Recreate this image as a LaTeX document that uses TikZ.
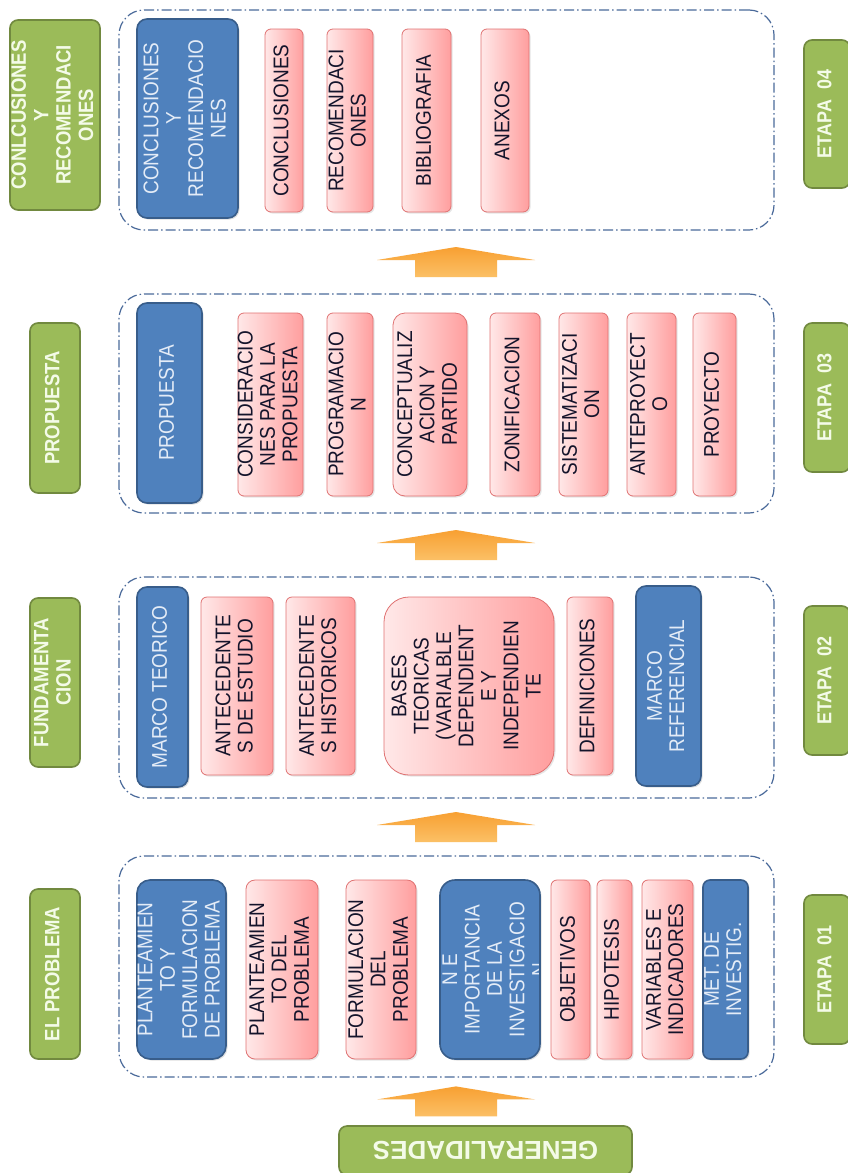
\documentclass[tikz,border=0pt]{standalone}
\usepackage{fontspec}
\setmainfont{Liberation Sans}
\usepackage{graphicx}
\usetikzlibrary{shadows}

\definecolor{etblue}{HTML}{4F81BD}
\definecolor{etblueD}{HTML}{385D8A}
\definecolor{etbluetxt}{HTML}{E4ECF7}
\definecolor{etpinkL}{HTML}{FFE8E8}
\definecolor{etpinkR}{HTML}{FF9E9E}
\definecolor{etpinkD}{HTML}{E07272}
\definecolor{ettxt}{HTML}{14142B}
\definecolor{etgreen}{HTML}{9BBB59}
\definecolor{etgreenD}{HTML}{71893F}
\definecolor{etgreentxt}{HTML}{F4FBE8}
\definecolor{etframe}{HTML}{4A6A9A}
\definecolor{etorA}{HTML}{F8A032}
\definecolor{etorB}{HTML}{F3861A}
\definecolor{etorC}{HTML}{FBC066}

\newcommand{\rottext}[1]{\rotatebox{90}{\scalebox{1}[1.12]{\begin{tabular}{@{}c@{}}#1\end{tabular}}}}

\tikzset{
  sz/.style 2 args={minimum width=#1pt, minimum height=#2pt},
  boxtxt/.style={font=\fontsize{19}{20}\selectfont},
  blueb/.style={draw=etblueD, line width=1.6pt, fill=etblue, rounded corners=10pt,
    text=etbluetxt, inner sep=-4pt, boxtxt,
    drop shadow={opacity=0.25, shadow xshift=1.5pt, shadow yshift=-1.5pt}},
  pinkb/.style={draw=etpinkD, line width=0.8pt, left color=etpinkL, right color=etpinkR,
    rounded corners=6pt, text=ettxt, inner sep=-4pt, boxtxt,
    drop shadow={opacity=0.2, shadow xshift=1.5pt, shadow yshift=-1.5pt}},
  greenb/.style={draw=etgreenD, line width=1.6pt, fill=etgreen, rounded corners=8pt,
    text=etgreentxt, inner sep=-4pt, font=\bfseries\fontsize{18.5}{20}\selectfont},
  etapa/.style={greenb, font=\bfseries\fontsize{18}{20}\selectfont},
  stage/.style={draw=etframe, line width=1.2pt, dash pattern=on 10pt off 3pt on 1.5pt off 3pt,
    rounded corners=25pt, inner sep=0pt},
  uparrow/.style={top color=etorA, middle color=etorB, bottom color=etorC},
}

\begin{document}
\begin{tikzpicture}[x=1pt, y=-1pt]
\useasboundingbox[fill=white] (0,0) rectangle (847,1173);

% etapa 04
\node[stage, sz={655}{220}] (s4) at (446.5,120) {};
\node[greenb, sz={90}{190}] (g4) at (55,115) {\rottext{CONLCUSIONES\\Y\\RECOMENDACI\\ONES}};
\node[blueb, sz={101}{199}] (b41) at (187.5,118.5) {\rottext{CONCLUSIONES\\Y\\RECOMENDACIO\\NES}};
\node[pinkb, sz={38}{183}] (p41) at (284,120.5) {\rottext{CONCLUSIONES}};
\node[pinkb, sz={46}{183}] (p42) at (350,120.5) {\rottext{RECOMENDACI\\ONES}};
\node[pinkb, sz={49}{183}] (p43) at (426.5,120.5) {\rottext{BIBLIOGRAFIA}};
\node[pinkb, sz={48}{183}] (p44) at (505,120.5) {\rottext{ANEXOS}};
\node[etapa, sz={46}{148}] (e4) at (827,114) {\rottext{ETAPA\ \ 04}};

% etapa 03
\node[stage, sz={655}{219}] (s3) at (446.5,403.5) {};
\node[greenb, sz={50}{170}] (g3) at (55,408) {\rottext{PROPUESTA}};
\node[blueb, sz={65}{200}] (b31) at (169.5,403) {\rottext{PROPUESTA}};
\node[pinkb, sz={65}{183}] (p31) at (270.5,404.5) {\rottext{CONSIDERACIO\\NES PARA LA\\PROPUESTA}};
\node[pinkb, sz={46}{183}] (p32) at (350,404.5) {\rottext{PROGRAMACIO\\N}};
\node[pinkb, sz={74}{183}, rounded corners=12pt] (p33) at (430,404.5) {\rottext{CONCEPTUALIZ\\ACION Y\\PARTIDO}};
\node[pinkb, sz={50}{183}] (p34) at (515,404.5) {\rottext{ZONIFICACION}};
\node[pinkb, sz={49}{183}] (p35) at (583.5,404.5) {\rottext{SISTEMATIZACI\\ON}};
\node[pinkb, sz={49}{183}] (p36) at (651.5,404.5) {\rottext{ANTEPROYECT\\O}};
\node[pinkb, sz={43}{183}] (p37) at (714.5,404.5) {\rottext{PROYECTO}};
\node[etapa, sz={46}{149}] (e3) at (827,397.5) {\rottext{ETAPA\ \ 03}};

% etapa 02
\node[stage, sz={655}{221}] (s2) at (446.5,687.5) {};
\node[greenb, sz={50}{169}] (g2) at (55,682.5) {\rottext{FUNDAMENTA\\CION}};
\node[blueb, sz={51}{200}] (b21) at (162.5,687) {\rottext{MARCO TEORICO}};
\node[pinkb, sz={72}{178}] (p21) at (237,686) {\rottext{ANTECEDENTE\\S DE ESTUDIO}};
\node[pinkb, sz={69}{178}] (p22) at (320.5,686) {\rottext{ANTECEDENTE\\S HISTORICOS}};
\node[pinkb, sz={170}{178}, rounded corners=25pt] (p23) at (469,686)
  {\rottext{BASES\\TEORICAS\\(VARIALBLE\\DEPENDIENT\\E Y\\INDEPENDIEN\\TE}};
\node[pinkb, sz={46}{178}] (p24) at (590,686) {\rottext{DEFINICIONES}};
\node[blueb, sz={65}{200}] (b22) at (668.5,686) {\rottext{MARCO\\REFERENCIAL}};
\node[etapa, sz={46}{149}] (e2) at (827,680.5) {\rottext{ETAPA\ \ 02}};

% etapa 01
\node[stage, sz={655}{221}] (s1) at (446.5,966.5) {};
\node[greenb, sz={50}{170}] (g1) at (55,974) {\rottext{EL PROBLEMA}};
\node[blueb, sz={89}{179}, rounded corners=13pt] (b11) at (181.5,969.5) {\rottext{PLANTEAMIEN\\TO Y\\FORMULACION\\DE PROBLEMA}};
\node[pinkb, sz={72}{179}, rounded corners=9pt] (p11) at (282,969.5) {\rottext{PLANTEAMIEN\\TO DEL\\PROBLEMA}};
\node[pinkb, sz={70}{179}, rounded corners=9pt] (p12) at (381,969.5) {\rottext{FORMULACION\\DEL\\PROBLEMA}};
\node[blueb, sz={100}{179}, rounded corners=15pt,
  path picture={\node[text=etbluetxt, boxtxt] (b12t) at ([xshift=7.5pt]path picture bounding box.center)
    {\rottext{N E\\IMPORTANCIA\\DE LA\\INVESTIGACIO\\N}};}] (b12) at (490,969.5) {};
\node[pinkb, sz={39}{179}] (p13) at (570.5,969.5) {\rottext{OBJETIVOS}};
\node[pinkb, sz={35}{179}] (p14) at (614.5,969.5) {\rottext{HIPOTESIS}};
\node[pinkb, sz={51}{179}] (p15) at (667.5,969.5) {\rottext{VARIABLES E\\INDICADORES}};
\node[blueb, sz={45}{179}, rounded corners=7pt] (b13) at (725.5,969.5) {\rottext{MET. DE\\INVESTIG.}};
\node[etapa, sz={46}{149}] (e1) at (827,969.5) {\rottext{ETAPA\ \ 01}};

\node[greenb, sz={293}{49}, font=\bfseries\fontsize{26}{28}\selectfont] (gen) at (485.5,1150.5) {\rotatebox{180}{GENERALIDADES}};

% flechas
\foreach \a/\b in {s4/s3, s3/s2, s2/s1, s1/gen} {
  \path (\a.south) -- (\a.south |- \b.north) coordinate[midway] (m\a);
  \shade[uparrow, shift={(m\a)}, xshift=9.5pt] (-79,-2) -- (0,-15) -- (79,-2) -- (41,-2)
    -- (41,15) -- (-41,15) -- (-41,-2) -- cycle;
}
\end{tikzpicture}
\end{document}
